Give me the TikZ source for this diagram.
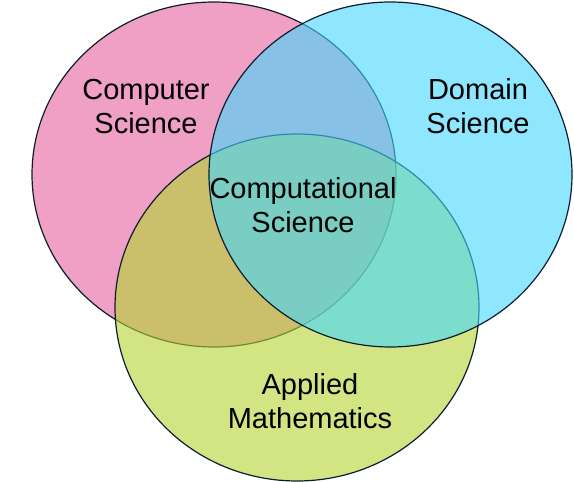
\documentclass[tikz,border=0pt]{standalone}
\usepackage{fontspec}
\setmainfont{Liberation Sans}
\usetikzlibrary{shapes.geometric}
\definecolor{cspink}{RGB}{239,160,196}
\definecolor{amgreen}{RGB}{182,212,48}
\definecolor{dsblue}{RGB}{67,215,253}
\definecolor{rimnavy}{RGB}{10,30,48}
\tikzset{set/.style={ellipse,draw=rimnavy,line width=1.2pt,inner sep=0pt},
label/.style={align=center,font=\fontsize{29}{34}\selectfont,text=black}}
\begin{document}
\begin{tikzpicture}[x=1pt,y=1pt]
\useasboundingbox (0,0) rectangle (574,482);
\node[set,fill=cspink,minimum width=364pt,minimum height=345pt] (cs) at (214,307.5) {};
\node[set,fill=amgreen,fill opacity=0.6,minimum width=364pt,minimum height=347pt] (am) at (297,174.5) {};
\node[set,fill=dsblue,fill opacity=0.6,minimum width=363pt,minimum height=345pt] (ds) at (390.5,307.5) {};
%\node at (cs.center) {cs};
\node[label] (cslabel) at (146,375) {Computer\\Science};
\node[label] (dslabel) at (478,376) {Domain\\Science};
\node[label] (cplabel) at (303,277) {Computational\\Science};
\node[label] (amlabel) at (310,80.5) {Applied\\Mathematics};
\end{tikzpicture}
\end{document}
